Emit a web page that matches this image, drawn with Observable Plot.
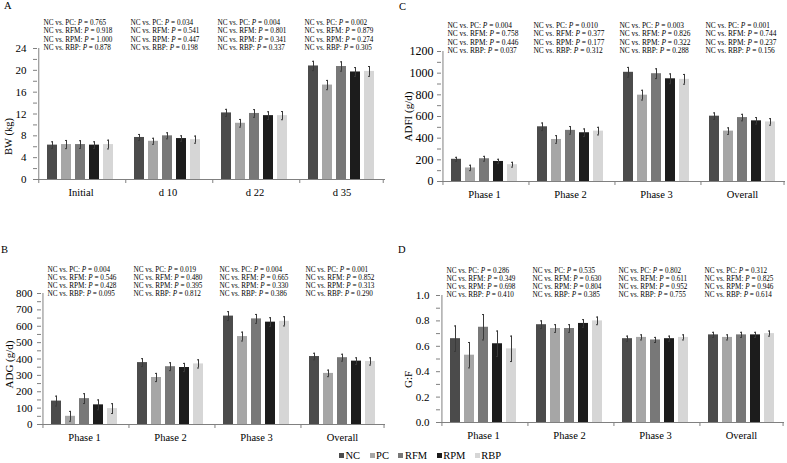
<!DOCTYPE html>
<html><head><meta charset="utf-8">
<script src="https://cdn.jsdelivr.net/npm/d3@7"></script>
<script src="https://cdn.jsdelivr.net/npm/@observablehq/plot@0.6"></script>
<style>
body{margin:0;background:#fff;}
#chart{position:relative;width:787px;height:463px;background:#fff;font-family:"Liberation Serif","Times New Roman",serif;overflow:hidden;color:#000}
.panel{position:absolute}
.letter{position:absolute;font-size:10.5px;line-height:12px}
#legend{position:absolute;left:339px;top:450px;font-size:10.5px;line-height:12px;white-space:nowrap}
#legend span.item{display:inline-block;margin-right:9.5px}
#legend span.sw{display:inline-block;width:5px;height:5px;margin-right:1.5px;vertical-align:1px}
</style></head><body><div id="chart"></div>
<script>
// ---------- data ----------
const groups = ["NC", "PC", "RFM", "RPM", "RBP"];
const comparisons = ["PC", "RFM", "RPM", "RBP"];
const groupColors = ["#4b4b4b", "#a6a6a6", "#787878", "#1c1c1c", "#d6d6d6"];

const bwCategories = ["Initial", "d 10", "d 22", "d 35"];
const bwMean = [
  [6.3, 7.7, 12.2, 20.8],
  [6.4, 7.0, 10.3, 17.3],
  [6.4, 8.0, 12.1, 20.7],
  [6.3, 7.5, 11.7, 19.7],
  [6.4, 7.3, 11.7, 19.8]
];
const bwSem = [
  [0.6, 0.55, 0.65, 0.85],
  [0.75, 0.55, 0.7, 0.85],
  [0.7, 0.55, 0.7, 0.85],
  [0.6, 0.5, 0.7, 0.8],
  [0.8, 0.65, 0.75, 0.9]
];
const bwP = [
  ["0.765", "0.918", "1.000", "0.878"],
  ["0.034", "0.541", "0.447", "0.198"],
  ["0.004", "0.801", "0.341", "0.337"],
  ["0.002", "0.879", "0.274", "0.305"]
];

const phaseCategories = ["Phase 1", "Phase 2", "Phase 3", "Overall"];
const adgMean = [
  [143, 378, 662, 415],
  [50, 287, 537, 312],
  [158, 353, 645, 408],
  [120, 348, 625, 387],
  [97, 370, 630, 385]
];
const adgSem = [
  [30, 24, 27, 20],
  [30, 25, 27, 20],
  [30, 24, 27, 21],
  [30, 25, 27, 20],
  [30, 25, 28, 22]
];
const adgP = [
  ["0.004", "0.546", "0.428", "0.095"],
  ["0.019", "0.480", "0.395", "0.812"],
  ["0.004", "0.665", "0.330", "0.386"],
  ["0.001", "0.852", "0.313", "0.290"]
];

const adfiMean = [
  [205, 505, 1008, 603],
  [125, 388, 797, 465],
  [210, 472, 995, 590],
  [185, 450, 948, 560],
  [155, 465, 943, 550]
];
const adfiSem = [
  [18, 35, 45, 30],
  [25, 35, 45, 30],
  [22, 35, 45, 30],
  [20, 35, 45, 30],
  [22, 35, 45, 30]
];
const adfiP = [
  ["0.004", "0.758", "0.446", "0.037"],
  ["0.010", "0.377", "0.177", "0.312"],
  ["0.003", "0.826", "0.322", "0.288"],
  ["0.001", "0.744", "0.237", "0.156"]
];

const gfMean = [
  [0.66, 0.77, 0.66, 0.69],
  [0.53, 0.74, 0.67, 0.67],
  [0.75, 0.74, 0.65, 0.69],
  [0.62, 0.78, 0.66, 0.69],
  [0.58, 0.80, 0.67, 0.70]
];
const gfSem = [
  [0.10, 0.03, 0.02, 0.02],
  [0.10, 0.03, 0.02, 0.02],
  [0.10, 0.03, 0.02, 0.02],
  [0.10, 0.03, 0.02, 0.02],
  [0.10, 0.03, 0.02, 0.02]
];
const gfP = [
  ["0.286", "0.349", "0.698", "0.410"],
  ["0.535", "0.630", "0.804", "0.385"],
  ["0.802", "0.611", "0.952", "0.755"],
  ["0.312", "0.825", "0.946", "0.614"]
];

// ---------- drawing ----------
const chart = document.getElementById("chart");
const axisGray = "#808080";
const errColor = "#3a3a3a";
const PI = 0.27, PO = 0.55;

function panel(cfg) {
  const rows = [];
  cfg.categories.forEach((c, ci) => groups.forEach((g, gi) =>
    rows.push({cat: c, group: g, value: cfg.mean[gi][ci], err: cfg.sem[gi][ci]})));
  const pRows = [];
  cfg.categories.forEach((c, ci) => comparisons.forEach((cmp, li) =>
    pRows.push({cat: c, line: li, text: `NC vs. ${cmp}: P = ${cfg.p[ci][li]}`})));

  const frameW = cfg.width - cfg.mL - cfg.mR;
  const frameH = cfg.height - cfg.mT - cfg.mB;
  const facetW = frameW / cfg.categories.length;
  const step = facetW / (groups.length - PI + 2 * PO);
  const edge = step * (PO + (1 - PI) / 2);
  const tickUnits = 4 * cfg.yMax / frameH;
  const yTicks = d3.range(0, cfg.yMax + cfg.minor / 2, cfg.minor).map(v => +v.toFixed(6));
  const isMajor = v => Math.abs(v / cfg.major - Math.round(v / cfg.major)) < 1e-6;
  const first = cfg.categories[0], last = cfg.categories[cfg.categories.length - 1];

  const marks = [
    Plot.barY(rows, {fx: "cat", x: "group", y: "value", fill: "group"}),
    Plot.ruleX(rows, {fx: "cat", x: "group", y1: d => d.value - d.err, y2: d => d.value + d.err, stroke: errColor, strokeWidth: 1}),
    Plot.tickY(rows, {fx: "cat", x: "group", y: d => d.value + d.err, stroke: errColor, insetLeft: 4, insetRight: 4}),
    Plot.tickY(rows, {fx: "cat", x: "group", y: d => d.value - d.err, stroke: errColor, insetLeft: 4, insetRight: 4}),
    Plot.ruleY([0], {stroke: axisGray}),
    Plot.ruleX(cfg.categories, {fx: d => d, x: () => groups[0], dx: -edge, y1: 0, y2: -tickUnits, stroke: axisGray}),
    Plot.ruleX([last], {fx: d => d, x: () => groups[groups.length - 1], dx: edge, y1: 0, y2: -tickUnits, stroke: axisGray}),
    Plot.ruleX([first], {fx: d => d, x: () => groups[0], dx: -edge, y1: 0, y2: cfg.yMax, stroke: axisGray}),
    Plot.text([cfg.title], {fx: () => first, text: d => d, frameAnchor: "left", textAnchor: "middle", rotate: -90,
      dx: cfg.titleDx, dy: cfg.titleDy, fontSize: cfg.titleSize, fill: "#000"}),
    ...[0, 1, 2, 3].map(li => Plot.text(pRows.filter(r => r.line === li), {
      fx: "cat", text: "text", frameAnchor: "top-left", textAnchor: "start",
      dx: 6, dy: cfg.pTop + 8.1 * li, fontSize: cfg.pSize, fill: "#000"
    }))
  ];

  const svg = Plot.plot({
    width: cfg.width, height: cfg.height,
    marginLeft: cfg.mL, marginRight: cfg.mR, marginTop: cfg.mT, marginBottom: cfg.mB,
    style: {fontFamily: "'Liberation Serif', 'Times New Roman', serif", fontSize: "10.5px", background: "transparent", color: "#000"},
    fx: {domain: cfg.categories, padding: 0, axis: "bottom", label: null, tickSize: 0, tickPadding: 9},
    x: {domain: groups, axis: null, paddingInner: PI, paddingOuter: PO},
    y: {domain: [0, cfg.yMax], ticks: yTicks, tickFormat: v => isMajor(v) ? cfg.fmt(v) : "", tickSize: 4, tickPadding: cfg.tickPad, label: null},
    color: {domain: groups, range: groupColors},
    marks
  });

  // italic P in the p-value annotations
  svg.querySelectorAll("text").forEach(t => {
    const m = /^(NC vs\. \w+: )P( = .+)$/.exec(t.textContent);
    if (!m || t.children.length) return;
    t.textContent = "";
    const ns = "http://www.w3.org/2000/svg";
    const a = document.createElementNS(ns, "tspan"); a.textContent = m[1];
    const b = document.createElementNS(ns, "tspan"); b.textContent = "P"; b.setAttribute("font-style", "italic");
    const c = document.createElementNS(ns, "tspan"); c.textContent = m[2];
    t.append(a, b, c);
  });
  // y-axis styling
  svg.querySelectorAll("g[aria-label^='y-axis'] path, g[aria-label^='y-axis'] line").forEach(el => el.setAttribute("stroke", axisGray));
  svg.querySelectorAll("g[aria-label^='y-axis'] text").forEach(el => el.setAttribute("font-size", cfg.tickSize));

  svg.classList.add("panel");
  svg.style.left = cfg.left + "px";
  svg.style.top = cfg.top + "px";
  svg.style.position = "absolute";
  chart.appendChild(svg);

  const letter = document.createElement("div");
  letter.className = "letter";
  letter.textContent = cfg.letter;
  letter.style.left = cfg.letterX + "px";
  letter.style.top = cfg.letterY + "px";
  chart.appendChild(letter);
}

panel({letter: "A", letterX: 4, letterY: 0, left: 0, top: 0, width: 390, height: 205, mL: 36, mR: 4, mT: 48, mB: 26,
  categories: bwCategories, mean: bwMean, sem: bwSem, p: bwP, yMax: 24, major: 4, minor: 2, fmt: v => String(v),
  title: "BW (kg)", titleDx: -28.5, titleDy: 22.5, titleSize: 10.5, pTop: -28.3, pSize: 7.2, tickPad: 7, tickSize: 11});
panel({letter: "C", letterX: 399, letterY: 1, left: 390, top: 0, width: 397, height: 207, mL: 50, mR: 2, mT: 51, mB: 26,
  categories: phaseCategories, mean: adfiMean, sem: adfiSem, p: adfiP, yMax: 1200, major: 200, minor: 100, fmt: v => String(v),
  title: "ADFI (g/d)", titleDx: -33, titleDy: 0, titleSize: 11, pTop: -28.4, pSize: 7.4, tickPad: 4, tickSize: 12});
panel({letter: "B", letterX: 1, letterY: 244, left: 0, top: 225, width: 390, height: 225, mL: 40, mR: 5, mT: 68, mB: 26,
  categories: phaseCategories, mean: adgMean, sem: adgSem, p: adgP, yMax: 800, major: 100, minor: 50, fmt: v => String(v),
  title: "ADG (g/d)", titleDx: -32, titleDy: 5.5, titleSize: 11, pTop: -26.6, pSize: 7.2, tickPad: 5, tickSize: 11});
panel({letter: "D", letterX: 398, letterY: 244, left: 390, top: 225, width: 397, height: 223, mL: 49, mR: 2, mT: 70, mB: 26,
  categories: phaseCategories, mean: gfMean, sem: gfSem, p: gfP, yMax: 1.0, major: 0.2, minor: 0.1, fmt: v => v.toFixed(1),
  title: "G:F", titleDx: -32.3, titleDy: 20.5, titleSize: 11, pTop: -28, pSize: 7.2, tickPad: 7, tickSize: 11});

// legend
const legend = document.createElement("div");
legend.id = "legend";
groups.forEach((g, i) => {
  const item = document.createElement("span");
  item.className = "item";
  const sw = document.createElement("span");
  sw.className = "sw";
  sw.style.background = groupColors[i];
  item.appendChild(sw);
  item.appendChild(document.createTextNode(g));
  legend.appendChild(item);
});
chart.appendChild(legend);
</script>
</body></html>
